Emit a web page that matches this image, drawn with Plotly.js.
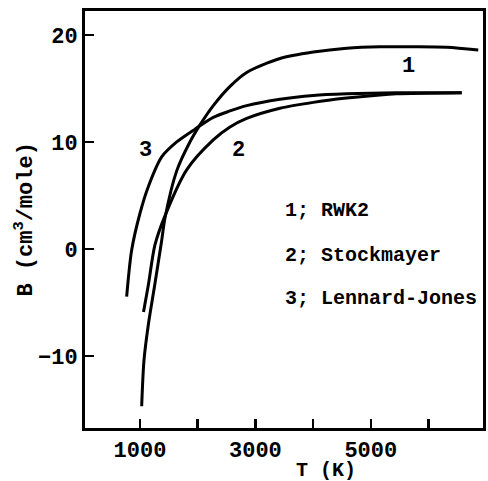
<!DOCTYPE html>
<html>
<head>
<meta charset="utf-8">
<script src="https://cdn.plot.ly/plotly-3.0.1.min.js"></script>
<style>html,body{margin:0;padding:0;background:#fff;}#chart{width:488px;height:481px;}</style>
</head>
<body>
<div id="chart"></div>
<script>
// Curve 1: RWK2
const rwk2T = [1029, 1069, 1144, 1260, 1376, 1433, 1636, 1865, 2040, 2270, 2560, 2849, 3426, 4003, 4581, 5159, 5735, 6315, 6862];
const rwk2B = [-14.7, -10.4, -7.1, -3.2, 0.8, 2.9, 7.3, 10.0, 11.6, 13.4, 15.2, 16.5, 17.8, 18.4, 18.76, 18.9, 18.9, 18.85, 18.6];
// Curve 2: Stockmayer
const stockT = [1061, 1144, 1260, 1433, 1809, 2270, 2560, 2849, 3426, 4003, 4581, 5159, 5447, 6575];
const stockB = [-5.9, -3.4, 0.4, 3.1, 7.4, 10.2, 11.4, 12.2, 13.15, 13.7, 14.1, 14.4, 14.5, 14.6];
// Curve 3: Lennard-Jones
const ljT = [769, 856, 1000, 1144, 1376, 1636, 1953, 2270, 2560, 2849, 3426, 4003, 4581, 5447, 6575];
const ljB = [-4.46, -0.1, 3.34, 5.82, 8.6, 10.0, 11.2, 12.3, 12.9, 13.4, 14.0, 14.35, 14.5, 14.6, 14.6];

const xTickVals = [1000, 3000, 5000];
const xTickText = ['1000', '3000', '5000'];
const xMinorTickVals = [2000, 4000, 6000];
const yTickVals = [-10, 0, 10, 20];

const curveLabels = ['1', '2', '3'];
const curveLabelT = [5654, 2704, 1087];
const curveLabelB = [17.1, 9.2, 9.2];

const legendTexts = ['1; RWK2', '2; Stockmayer', '3; Lennard-Jones'];
const legendT = 3474;
const legendB = [3.63, -0.65, -4.66];

const FONT = 'Liberation Mono, DejaVu Sans Mono, monospace';

function curve(x, y, name) {
  return {x: x, y: y, name: name, type: 'scatter', mode: 'lines',
    line: {color: '#000', width: 3, shape: 'spline', smoothing: 0.8},
    hoverinfo: 'skip', showlegend: false};
}

const data = [curve(rwk2T, rwk2B, 'RWK2'), curve(stockT, stockB, 'Stockmayer'), curve(ljT, ljB, 'Lennard-Jones')];

const annotations = [];
curveLabels.forEach((t, i) => annotations.push({
  x: curveLabelT[i], y: curveLabelB[i], xref: 'x', yref: 'y', text: t, showarrow: false,
  xanchor: 'center', yanchor: 'middle', font: {family: FONT, size: 22, color: '#000', weight: 'bold'}
}));
legendTexts.forEach((t, i) => annotations.push({
  x: legendT, y: legendB[i], xref: 'x', yref: 'y', text: t, showarrow: false,
  xanchor: 'left', yanchor: 'middle', font: {family: FONT, size: 20, color: '#000', weight: 'bold'}
}));
// axis titles
annotations.push({x: 0.606, y: -0.07, xref: 'paper', yref: 'paper', text: 'T (K)', showarrow: false,
  xanchor: 'center', yanchor: 'top', font: {family: FONT, size: 20, color: '#000', weight: 'bold'}});
annotations.push({x: -0.153, y: 0.5, xref: 'paper', yref: 'paper', text: 'B (cm<sup>3</sup>/mole)', showarrow: false,
  textangle: -90, xanchor: 'center', yanchor: 'middle', font: {family: FONT, size: 22, color: '#000', weight: 'bold'}});

const layout = {
  width: 488, height: 481,
  margin: {l: 85, r: 5, t: 11, b: 53},
  paper_bgcolor: '#fff', plot_bgcolor: '#fff',
  showlegend: false,
  xaxis: {range: [47, 6944], tickmode: 'array', tickvals: xTickVals, ticktext: xTickText, ticks: 'inside', ticklen: 9, tickwidth: 2.5,
    tickcolor: '#000', showline: true, linecolor: '#000', linewidth: 3, mirror: true, showgrid: false, zeroline: false,
    minor: {tickmode: 'array', tickvals: xMinorTickVals, ticks: 'inside', ticklen: 9, tickwidth: 2.5, tickcolor: '#000', showgrid: false},
    tickfont: {family: FONT, size: 22, color: '#000', weight: 'bold'}},
  yaxis: {range: [-16.73, 22.24], tickvals: yTickVals, ticks: 'inside', ticklen: 9, tickwidth: 2.5,
    tickcolor: '#000', showline: true, linecolor: '#000', linewidth: 3, mirror: true, showgrid: false, zeroline: false,
    tickfont: {family: FONT, size: 22, color: '#000', weight: 'bold'}},
  annotations: annotations
};

Plotly.newPlot('chart', data, layout, {displayModeBar: false, staticPlot: true});
</script>
</body>
</html>
